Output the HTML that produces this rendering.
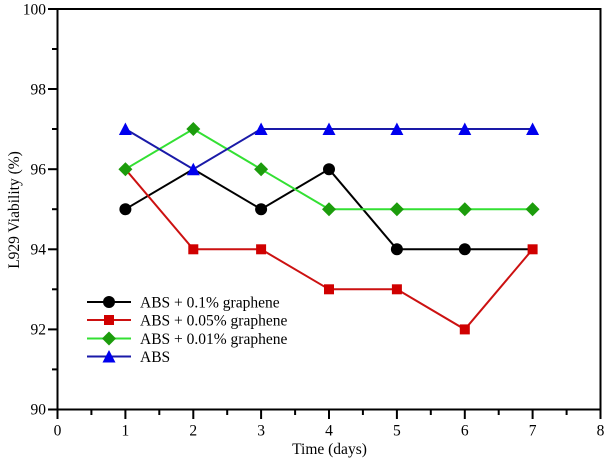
<!DOCTYPE html>
<html><head><meta charset="utf-8"><style>
html,body{margin:0;padding:0;background:#fff;}
svg{display:block;}
text{font-family:"Liberation Serif",serif;fill:#000;}
</style></head><body>
<svg width="608" height="460" viewBox="0 0 608 460" xmlns="http://www.w3.org/2000/svg">
<rect width="608" height="460" fill="#fff"/>
<!-- axes box -->
<rect x="57.5" y="9" width="543" height="400.5" fill="none" stroke="#000" stroke-width="2"/>
<!-- y ticks -->
<g stroke="#000" stroke-width="2">
<line x1="48" y1="9" x2="57.5" y2="9"/>
<line x1="52" y1="49" x2="57.5" y2="49"/>
<line x1="48" y1="89" x2="57.5" y2="89"/>
<line x1="52" y1="129" x2="57.5" y2="129"/>
<line x1="48" y1="169.2" x2="57.5" y2="169.2"/>
<line x1="52" y1="209.2" x2="57.5" y2="209.2"/>
<line x1="48" y1="249.3" x2="57.5" y2="249.3"/>
<line x1="52" y1="289.3" x2="57.5" y2="289.3"/>
<line x1="48" y1="329.4" x2="57.5" y2="329.4"/>
<line x1="52" y1="369.4" x2="57.5" y2="369.4"/>
<line x1="48" y1="409.5" x2="57.5" y2="409.5"/>
</g>
<g font-size="15.5" text-anchor="end">
<text x="46" y="14.5">100</text>
<text x="46" y="94.5">98</text>
<text x="46" y="174.5">96</text>
<text x="46" y="254.5">94</text>
<text x="46" y="334.5">92</text>
<text x="46" y="414.5">90</text>
</g>
<!-- x ticks -->
<g stroke="#000" stroke-width="2">
<line x1="57.5" y1="409.5" x2="57.5" y2="419"/>
<line x1="91.4" y1="409.5" x2="91.4" y2="415"/>
<line x1="125.4" y1="409.5" x2="125.4" y2="419"/>
<line x1="159.3" y1="409.5" x2="159.3" y2="415"/>
<line x1="193.3" y1="409.5" x2="193.3" y2="419"/>
<line x1="227.2" y1="409.5" x2="227.2" y2="415"/>
<line x1="261.1" y1="409.5" x2="261.1" y2="419"/>
<line x1="295.1" y1="409.5" x2="295.1" y2="415"/>
<line x1="329" y1="409.5" x2="329" y2="419"/>
<line x1="362.9" y1="409.5" x2="362.9" y2="415"/>
<line x1="396.9" y1="409.5" x2="396.9" y2="419"/>
<line x1="430.8" y1="409.5" x2="430.8" y2="415"/>
<line x1="464.8" y1="409.5" x2="464.8" y2="419"/>
<line x1="498.7" y1="409.5" x2="498.7" y2="415"/>
<line x1="532.6" y1="409.5" x2="532.6" y2="419"/>
<line x1="566.6" y1="409.5" x2="566.6" y2="415"/>
<line x1="600.5" y1="409.5" x2="600.5" y2="419"/>
</g>
<g font-size="15.5" text-anchor="middle">
<text x="57.5" y="435.5">0</text>
<text x="125.4" y="435.5">1</text>
<text x="193.3" y="435.5">2</text>
<text x="261.1" y="435.5">3</text>
<text x="329" y="435.5">4</text>
<text x="396.9" y="435.5">5</text>
<text x="464.8" y="435.5">6</text>
<text x="532.6" y="435.5">7</text>
<text x="600.5" y="435.5">8</text>
</g>
<text x="329.5" y="454" font-size="15.5" text-anchor="middle">Time (days)</text>
<text transform="translate(19,210) rotate(-90)" font-size="15.5" text-anchor="middle">L929 Viability (%)</text>

<!-- black: 95,96,95,96,94,94,94 -->
<polyline fill="none" stroke="#000" stroke-width="2" points="125.4,209.2 193.3,169.2 261.1,209.2 329,169.2 396.9,249.3 464.8,249.3 532.6,249.3"/>
<g fill="#000">
<circle cx="125.4" cy="209.2" r="6"/><circle cx="261.1" cy="209.2" r="6"/><circle cx="329" cy="169.2" r="6"/><circle cx="396.9" cy="249.3" r="6"/><circle cx="464.8" cy="249.3" r="6"/>
</g>
<!-- red: 96,94,94,93,93,92,94 -->
<polyline fill="none" stroke="#cc1111" stroke-width="2" points="125.4,169.2 193.3,249.3 261.1,249.3 329,289.3 396.9,289.3 464.8,329.4 532.6,249.3"/>
<g fill="#d00000">
<rect x="188.3" y="244.3" width="10" height="10"/><rect x="256.1" y="244.3" width="10" height="10"/><rect x="324" y="284.3" width="10" height="10"/><rect x="391.9" y="284.3" width="10" height="10"/><rect x="459.8" y="324.4" width="10" height="10"/><rect x="527.6" y="244.3" width="10" height="10"/>
</g>
<!-- green: 96,97,96,95,95,95,95 -->
<polyline fill="none" stroke="#33e033" stroke-width="2" points="125.4,169.2 193.3,129 261.1,169.2 329,209.2 396.9,209.2 464.8,209.2 532.6,209.2"/>
<g fill="#1c9c0c">
<polygon points="125.4,162.2 132.4,169.2 125.4,176.2 118.4,169.2"/>
<polygon points="193.3,122 200.3,129 193.3,136 186.3,129"/>
<polygon points="261.1,162.2 268.1,169.2 261.1,176.2 254.1,169.2"/>
<polygon points="329,202.2 336,209.2 329,216.2 322,209.2"/>
<polygon points="396.9,202.2 403.9,209.2 396.9,216.2 389.9,209.2"/>
<polygon points="464.8,202.2 471.8,209.2 464.8,216.2 457.8,209.2"/>
<polygon points="532.6,202.2 539.6,209.2 532.6,216.2 525.6,209.2"/>
</g>
<!-- blue: 97,96,97,97,97,97,97 -->
<polyline fill="none" stroke="#1a1aa8" stroke-width="2" points="125.4,129 193.3,169.2 261.1,129 329,129 396.9,129 464.8,129 532.6,129"/>
<g fill="#0000ee">
<polygon points="125.4,122.5 131.9,135 118.9,135"/>
<polygon points="193.3,162.7 199.8,175.2 186.8,175.2"/>
<polygon points="261.1,122.5 267.6,135 254.6,135"/>
<polygon points="329,122.5 335.5,135 322.5,135"/>
<polygon points="396.9,122.5 403.4,135 390.4,135"/>
<polygon points="464.8,122.5 471.3,135 458.3,135"/>
<polygon points="532.6,122.5 539.1,135 526.1,135"/>
</g>

<!-- legend -->
<line x1="87" y1="302" x2="131" y2="302" stroke="#000" stroke-width="2"/>
<circle cx="109" cy="302" r="6" fill="#000"/>
<line x1="87" y1="320" x2="131" y2="320" stroke="#cc1111" stroke-width="2"/>
<rect x="104" y="315" width="10" height="10" fill="#d00000"/>
<line x1="87" y1="338.5" x2="131" y2="338.5" stroke="#33e033" stroke-width="2"/>
<polygon points="109,331.5 116,338.5 109,345.5 102,338.5" fill="#1c9c0c"/>
<line x1="87" y1="356.5" x2="131" y2="356.5" stroke="#1a1aa8" stroke-width="2"/>
<polygon points="109,350 115.5,362.5 102.5,362.5" fill="#0000ee"/>
<g font-size="15.5">
<text x="140" y="307.5">ABS + 0.1% graphene</text>
<text x="140" y="325.5">ABS + 0.05% graphene</text>
<text x="140" y="344">ABS + 0.01% graphene</text>
<text x="140" y="362">ABS</text>
</g>
</svg>
</body></html>
